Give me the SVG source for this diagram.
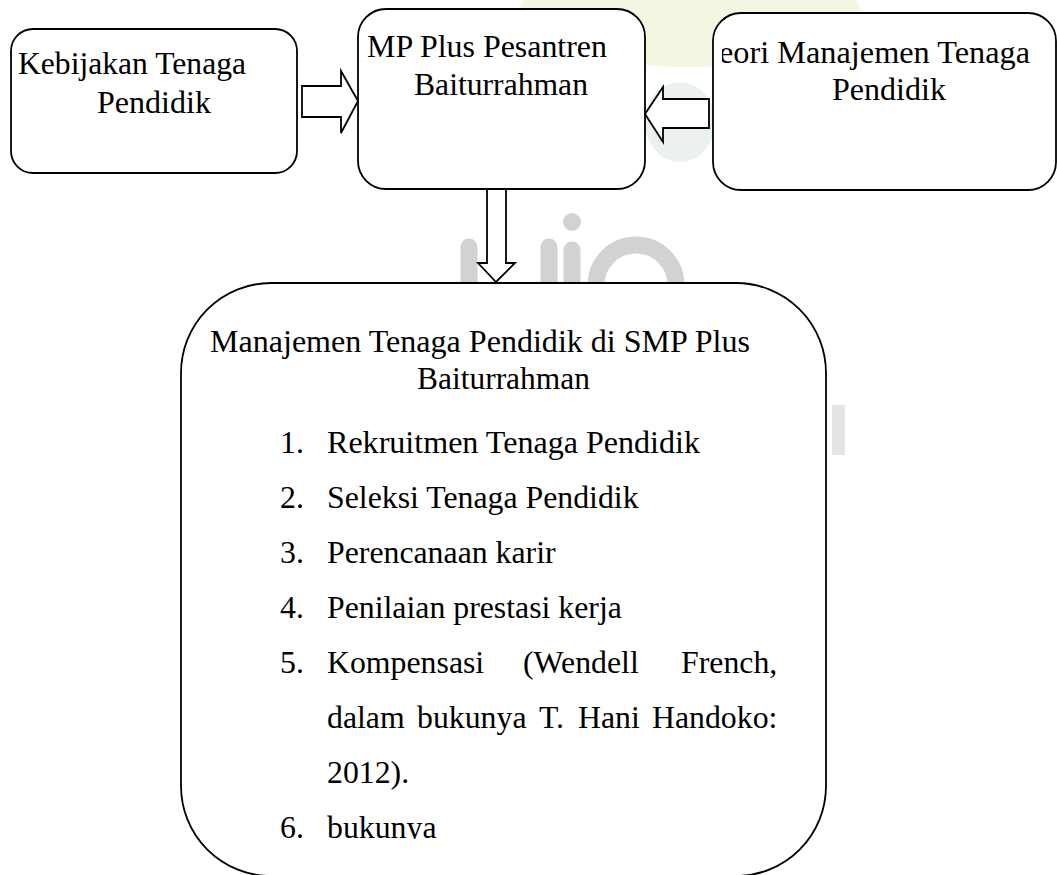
<svg xmlns="http://www.w3.org/2000/svg" width="1057" height="875" viewBox="0 0 1057 875">
<style>
.box{fill:#fff;stroke:#000;stroke-width:1.8}
.arrow{fill:#fff;stroke:#000;stroke-width:1.8;stroke-linejoin:miter}
.t{font-family:"Liberation Serif","Times New Roman",serif;font-size:31.8px;fill:#000}
.wm{stroke:#d2d2d2;stroke-width:17;stroke-linecap:round;fill:none}
</style>
<defs>
<clipPath id="clipRight"><rect x="722" y="0" width="340" height="200"/></clipPath>
<clipPath id="clipBottom"><rect x="181" y="283" width="645" height="556"/></clipPath>
</defs>
<rect width="1057" height="875" fill="#fff"/>
<g id="watermark">
<ellipse cx="690" cy="12" rx="170" ry="55" fill="#f3f7e2"/>
<ellipse cx="680" cy="122" rx="35" ry="40" fill="#ebf0f0"/>
<line class="wm" x1="469" y1="247" x2="469" y2="300"/>
<line class="wm" x1="549" y1="247" x2="549" y2="300"/>
<line class="wm" x1="572" y1="250" x2="572" y2="300"/>
<circle cx="572" cy="222" r="9" fill="#d2d2d2"/>
<circle class="wm" cx="636" cy="285" r="40" stroke-width="16"/>
<rect x="832" y="405" width="13" height="50" fill="#e4e4e4"/>
</g>
<g id="node-kebijakan">
<rect class="box" x="11" y="29" width="286" height="144" rx="22"/>
<text class="t" x="18" y="74" textLength="228" lengthAdjust="spacingAndGlyphs">Kebijakan Tenaga</text>
<text class="t" x="97" y="113" textLength="114" lengthAdjust="spacingAndGlyphs">Pendidik</text>
</g>
<g id="node-smp">
<rect class="box" x="358" y="9" width="287" height="180" rx="28"/>
<text class="t" x="367" y="57" textLength="240" lengthAdjust="spacingAndGlyphs">MP Plus Pesantren</text>
<text class="t" x="414" y="95" textLength="174" lengthAdjust="spacingAndGlyphs">Baiturrahman</text>
</g>
<g id="node-teori">
<rect class="box" x="713" y="13" width="343" height="177" rx="28"/>
<g clip-path="url(#clipRight)">
<text class="t" x="719" y="63" textLength="311" lengthAdjust="spacingAndGlyphs">eori Manajemen Tenaga</text>
</g>
<text class="t" x="832" y="100" textLength="114" lengthAdjust="spacingAndGlyphs">Pendidik</text>
</g>
<g id="node-manajemen">
<rect class="box" x="181" y="283" width="645" height="593" rx="90"/>
<text class="t" x="210" y="352" textLength="540" lengthAdjust="spacingAndGlyphs">Manajemen Tenaga Pendidik di SMP Plus</text>
<text class="t" x="417" y="389" textLength="173" lengthAdjust="spacingAndGlyphs">Baiturrahman</text>
<g clip-path="url(#clipBottom)">
<text class="t" x="280" y="453">1.</text>
<text class="t" x="327" y="453" textLength="373" lengthAdjust="spacingAndGlyphs">Rekruitmen Tenaga Pendidik</text>
<text class="t" x="280" y="508">2.</text>
<text class="t" x="327" y="508">Seleksi Tenaga Pendidik</text>
<text class="t" x="280" y="563">3.</text>
<text class="t" x="327" y="563">Perencanaan karir</text>
<text class="t" x="280" y="618">4.</text>
<text class="t" x="327" y="618">Penilaian prestasi kerja</text>
<text class="t" x="280" y="673">5.</text>
<text class="t" y="673"><tspan x="327">Kompensasi</tspan><tspan x="523">(Wendell</tspan><tspan x="681">French,</tspan></text>
<text class="t" y="728"><tspan x="327">dalam</tspan><tspan x="417">bukunya</tspan><tspan x="539">T.</tspan><tspan x="578">Hani</tspan><tspan x="652">Handoko:</tspan></text>
<text class="t" x="327" y="783">2012).</text>
<text class="t" x="280" y="838">6.</text>
<text class="t" x="327" y="838">bukunya</text>
</g>
</g>
<g id="connectors">
<polygon class="arrow" points="302,86 341,86 341,71 358,101 341,133 341,117 302,117"/>
<polygon class="arrow" points="709,99 663,99 663,87 645,114 663,142 663,128 709,128"/>
<polygon class="arrow" points="487,189 506,189 506,263 515,263 496,282 478,263 487,263"/>
</g>
</svg>
